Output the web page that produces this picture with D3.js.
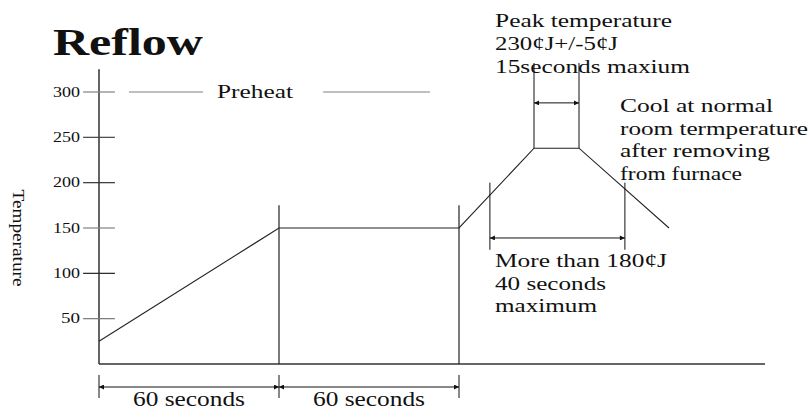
<!DOCTYPE html>
<html><head><meta charset="utf-8">
<script src="https://cdn.jsdelivr.net/npm/d3@7"></script>
<style>body{margin:0;background:#fff}svg{display:block}</style>
</head><body><svg id="c" width="810" height="409"></svg>
<script>
// ---- data ----
const timeSec = [0, 60, 120, 145, 160, 190];
const tempC   = [25, 150, 150, 238, 238, 150];
const yTickValues = [50, 100, 150, 200, 250, 300];
const yTickLabels = ["50", "100", "150", "200", "250", "300"];
const phaseBounds = [0, 60, 120];
const phaseLabels = ["60 seconds", "60 seconds"];
const peakWindow = [145, 160];
const above180Window = [130.3, 175.3];
const titleText = "Reflow";
const yLabel = "Temperature";
const preheatLabel = "Preheat";
const peakLines = ["Peak temperature", "230¢J+/-5¢J", "15seconds maxium"];
const coolLines = ["Cool at normal", "room termperature", "after removing", "from furnace"];
const above180Lines = ["More than 180¢J", "40 seconds", "maximum"];

const SERIF = "'Liberation Serif', 'Times New Roman', Times, serif";

// ---- scales ----
const x = d3.scaleLinear().domain([0, 222]).range([99, 765]);
const y = d3.scaleLinear().domain([0, 300]).range([364, 92]);
const svg = d3.select("#c");

const defs = svg.append("defs");
defs.append("marker").attr("id", "ah").attr("viewBox", "0 0 10 10")
  .attr("refX", 10).attr("refY", 5).attr("markerWidth", 7).attr("markerHeight", 5)
  .attr("markerUnits", "userSpaceOnUse").attr("orient", "auto-start-reverse")
  .append("path").attr("d", "M0,0L10,5L0,10z").attr("fill", "#111");

function line(x1, y1, x2, y2, color, w){
  return svg.append("line").attr("x1", x1).attr("y1", y1).attr("x2", x2).attr("y2", y2)
    .attr("stroke", color || "#111").attr("stroke-width", w || 1);
}
function dblArrow(x1, x2, yy){
  line(x1, yy, x2, yy).attr("marker-start", "url(#ah)").attr("marker-end", "url(#ah)");
}
function txt(s, tx, ty, size, len, opts){
  const t = svg.append("text").attr("x", tx).attr("y", ty)
    .attr("font-family", SERIF).attr("font-size", size).attr("fill", "#111").text(s);
  if (len) t.attr("textLength", len).attr("lengthAdjust", "spacingAndGlyphs");
  if (opts && opts.anchor) t.attr("text-anchor", opts.anchor);
  if (opts && opts.bold) t.attr("font-weight", "bold");
  return t;
}

// title
txt(titleText, 53, 55, 38, 150, {bold: true});

// axes
line(x(0), y(325), x(0), y(0), "#111", 1.3);
line(x(0), y(0), x(222), y(0), "#333", 1.3);

// y ticks
const tickColors = {300: "#808080", 250: "#444", 200: "#333", 150: "#808080", 100: "#222", 50: "#777"};
yTickValues.forEach((v, i) => {
  line(x(-5.3), y(v), x(5.3), y(v), tickColors[v], 1.2);
  txt(yTickLabels[i], 80, y(v) + 4.5, 14, yTickLabels[i].length === 3 ? 27 : 19, {anchor: "end"});
});

// y label
svg.append("text").attr("transform", `translate(13,${238}) rotate(90)`)
  .attr("font-family", SERIF).attr("fill", "#111")
  .attr("text-anchor", "middle").attr("font-size", 17)
  .attr("textLength", 97).attr("lengthAdjust", "spacingAndGlyphs").text(yLabel);

// preheat guide at 300
line(x(10), y(300), x(34.7), y(300), "#808080", 1.2);
line(x(74.7), y(300), x(110.3), y(300), "#808080", 1.2);
txt(preheatLabel, 217, 98, 19, 76);

// phase verticals
[60, 120].forEach(t => line(x(t), y(0), x(t), y(175), "#222", 1.2));

// profile
svg.append("path")
  .datum(timeSec.map((t, i) => [t, tempC[i]]))
  .attr("d", d3.line().x(d => x(d[0])).y(d => y(d[1])))
  .attr("fill", "none").attr("stroke", "#222").attr("stroke-width", 1.1);

// peak window
peakWindow.forEach(t => line(x(t), y(tempC[3]), x(t), y(332), "#111", 1));
dblArrow(x(peakWindow[0]), x(peakWindow[1]), y(288));

// above 180 window
above180Window.forEach(t => line(x(t), y(126), x(t), y(200), "#111", 1));
dblArrow(x(above180Window[0]), x(above180Window[1]), y(139));

// bottom phase arrows
phaseBounds.forEach(t => line(x(t), 375, x(t), 398, "#111", 1));
for (let i = 0; i < phaseBounds.length - 1; i++) {
  dblArrow(x(phaseBounds[i]), x(phaseBounds[i + 1]), 387);
  txt(phaseLabels[i], (x(phaseBounds[i]) + x(phaseBounds[i + 1])) / 2, 406, 20, 112, {anchor: "middle"});
}

// annotations
const peakLens = [177, 123, 195];
peakLines.forEach((s, i) => txt(s, 495, 27 + i * 23, 19, peakLens[i]));
const coolLens = [153, 188, 150, 122];
const coolBase = [112, 135, 157, 180];
coolLines.forEach((s, i) => txt(s, 620, coolBase[i], 19, coolLens[i]));
const aboveLens = [172, 111, 102];
const aboveBase = [267, 290, 312];
above180Lines.forEach((s, i) => txt(s, 495, aboveBase[i], 19, aboveLens[i]));
</script></body></html>
